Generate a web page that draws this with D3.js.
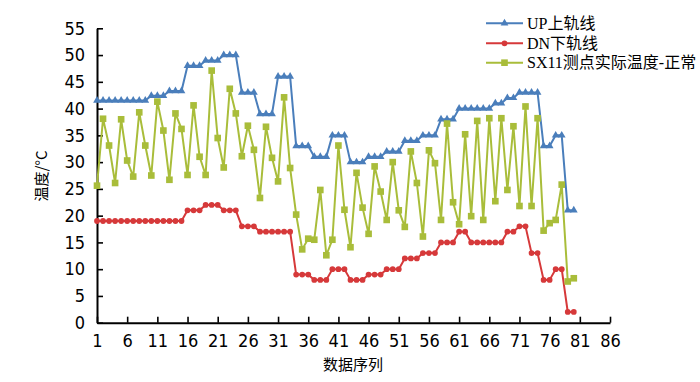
<!DOCTYPE html>
<html>
<head>
<meta charset="utf-8">
<script src="https://cdn.jsdelivr.net/npm/d3@7"></script>
<style>
  html, body { margin: 0; padding: 0; background: #fff; }
  svg { display: block; }
</style>
</head>
<body>
<svg id="chart" width="700" height="382"></svg>
<script>
// ---------------- data ----------------
const seq = [1,2,3,4,5,6,7,8,9,10,11,12,13,14,15,16,17,18,19,20,
             21,22,23,24,25,26,27,28,29,30,31,32,33,34,35,36,37,38,39,40,
             41,42,43,44,45,46,47,48,49,50,51,52,53,54,55,56,57,58,59,60,
             61,62,63,64,65,66,67,68,69,70,71,72,73,74,75,76,77,78,79,80];

const upLine = [41.5,41.5,41.5,41.5,41.5,41.5,41.5,41.5,41.5,42.4,
                42.4,42.4,43.3,43.3,43.3,48,48,48,49,49,
                49,50,50,50,43,43,43,39,39,39,
                46,46,46,33,33,33,31,31,31,35,
                35,35,30,30,30,31,31,31,32,32,
                32,34,34,34,35,35,35,38,38,38,
                40,40,40,40,40,40,41,41,42,42,
                43,43,43,43,33,33,35,35,21,21];

const dnLine = [19,19,19,19,19,19,19,19,19,19,
                19,19,19,19,19,21,21,21,22,22,
                22,21,21,21,18,18,18,17,17,17,
                17,17,17,9,9,9,8,8,8,10,
                10,10,8,8,8,9,9,9,10,10,
                10,12,12,12,13,13,13,15,15,15,
                17,17,15,15,15,15,15,15,17,17,
                18,18,13,13,8,8,10,10,2,2];

const sx11 = [25.6,38.1,33.1,26.1,38.0,30.3,27.3,39.3,33.1,27.5,
              41.3,35.9,26.7,39.1,36.2,27.6,40.6,31.0,27.6,47.1,
              34.5,29.0,43.7,39.1,31.1,36.8,32.3,23.3,36.6,30.8,
              26.4,42.1,28.9,20.2,13.7,15.7,15.5,24.8,12.6,15.5,
              33.1,21.1,14.1,28.0,21.5,16.6,29.2,24.5,19.2,30.0,
              21.0,17.9,32.0,26.1,16.1,32.2,29.8,19.2,37.2,22.5,
              18.4,35.2,19.9,37.7,19.2,38.2,22.7,38.2,24.8,36.7,
              21.8,40.4,21.8,38.2,17.2,18.6,19.2,25.8,7.7,8.3];

const xTicks = [1,6,11,16,21,26,31,36,41,46,51,56,61,66,71,76,81,86];
const yTicks = [0,5,10,15,20,25,30,35,40,45,50,55];

const seriesNames = ["UP上轨线", "DN下轨线", "SX11测点实际温度-正常"];
const xTitle = "数据序列";
const yTitle = "温度/°C";

// ---------------- drawing ----------------
const colors = ["#4a7ebb", "#d6393a", "#a9bd3a"];
const svg = d3.select("#chart");

const x = d3.scaleLinear().domain([1, 86]).range([97, 610]);
const y = d3.scaleLinear().domain([0, 55]).range([322.7, 28.3]);

const numFont = "'Liberation Sans Narrow', 'DejaVu Sans Condensed', 'Liberation Sans', sans-serif";
const cjkFont = "'Noto Sans CJK SC', 'Noto Sans', sans-serif";

// axes
const xAxis = svg.append("g")
  .attr("transform", `translate(0,${y(0)})`)
  .call(d3.axisBottom(x).tickValues(xTicks).tickSizeInner(-6).tickSizeOuter(0).tickPadding(12));
const yAxis = svg.append("g")
  .attr("transform", `translate(${x(1)},0)`)
  .call(d3.axisLeft(y).tickValues(yTicks).tickSizeInner(-6).tickSizeOuter(0).tickPadding(12));

[xAxis, yAxis].forEach(g => {
  g.select(".domain").attr("stroke", "#000").attr("stroke-width", 2);
  g.selectAll(".tick line").attr("stroke", "#000").attr("stroke-width", 1.6);
  g.selectAll(".tick text")
    .attr("fill", "#000")
    .style("font-family", numFont)
    .style("font-size", "18px");
});
yAxis.selectAll(".tick text").attr("x", -12);

// axis titles
svg.append("text")
  .attr("x", 353).attr("y", 370)
  .attr("text-anchor", "middle")
  .style("font-family", cjkFont).style("font-size", "15px")
  .text(xTitle);
svg.append("text")
  .attr("transform", `translate(47,${176}) rotate(-90)`)
  .attr("text-anchor", "middle")
  .style("font-family", cjkFont).style("font-size", "15px")
  .text(yTitle);

// series
const allSeries = [upLine, dnLine, sx11];
const symbols = [d3.symbolTriangle, d3.symbolCircle, d3.symbolSquare];
const symSizes = [26, 26, 44];

const line = d3.line().x((d, i) => x(seq[i])).y(d => y(d));

allSeries.forEach((vals, s) => {
  const g = svg.append("g");
  g.append("path")
    .attr("d", line(vals))
    .attr("fill", "none")
    .attr("stroke", colors[s])
    .attr("stroke-width", 2)
    .attr("stroke-linejoin", "round");
  g.selectAll("path.m")
    .data(vals)
    .enter().append("path")
    .attr("class", "m")
    .attr("transform", (d, i) => `translate(${x(seq[i])},${y(d)})`)
    .attr("d", d3.symbol().type(symbols[s]).size(symSizes[s]))
    .attr("fill", colors[s]);
});

// legend
const legY = [23.3, 43.3, 62.7];
seriesNames.forEach((name, s) => {
  const g = svg.append("g").attr("transform", `translate(0,${legY[s]})`);
  g.append("line")
    .attr("x1", 486).attr("x2", 523).attr("y1", 0).attr("y2", 0)
    .attr("stroke", colors[s]).attr("stroke-width", 2);
  g.append("path")
    .attr("transform", "translate(504.5,0)")
    .attr("d", d3.symbol().type(symbols[s]).size(symSizes[s]))
    .attr("fill", colors[s]);
  g.append("text")
    .attr("x", 527).attr("y", 5.6)
    .style("font-family", "'Liberation Serif', 'Noto Sans CJK SC', serif")
    .style("font-size", "16px")
    .attr("fill", "#000")
    .text(name);
});
</script>
</body>
</html>
